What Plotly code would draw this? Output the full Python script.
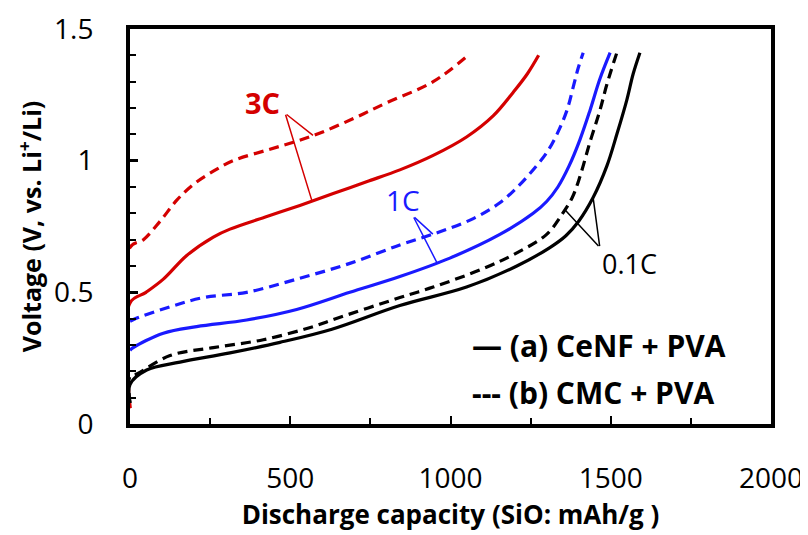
import numpy as np
import plotly.graph_objects as go

# ---- data ----
x_3c_a = [0, 0, 50, 104, 177, 260, 312, 420, 530, 634, 738, 842, 946, 1050, 1133, 1196, 1240, 1275]
y_3c_a = [0.06, 0.46, 0.50, 0.55, 0.64, 0.71, 0.74, 0.785, 0.83, 0.875, 0.92, 0.965, 1.02, 1.09, 1.17, 1.26, 1.33, 1.40]

x_3c_b = [0, 0, 42, 94, 146, 198, 260, 322, 427, 510, 593, 697, 801, 946, 1055]
y_3c_b = [0.06, 0.67, 0.70, 0.77, 0.85, 0.91, 0.96, 1.00, 1.04, 1.07, 1.105, 1.16, 1.22, 1.30, 1.40]

x_1c_a = [0, 10, 104, 208, 364, 520, 686, 842, 998, 1154, 1258, 1300, 1335, 1370, 1404, 1435, 1466, 1498]
y_1c_a = [0.28, 0.29, 0.345, 0.37, 0.395, 0.435, 0.50, 0.56, 0.63, 0.72, 0.80, 0.845, 0.90, 0.98, 1.08, 1.19, 1.31, 1.41]

x_1c_b = [0, 16, 125, 229, 364, 520, 686, 842, 967, 1071, 1154, 1217, 1268, 1300, 1332, 1363, 1383, 1398, 1414]
y_1c_b = [0.39, 0.40, 0.445, 0.48, 0.50, 0.55, 0.61, 0.68, 0.73, 0.78, 0.84, 0.91, 0.98, 1.03, 1.10, 1.19, 1.28, 1.35, 1.41]

x_01c_a = [0, 0, 52, 156, 312, 468, 630, 842, 1050, 1207, 1310, 1360, 1400, 1445, 1488, 1519, 1550, 1570, 1591]
y_01c_a = [0.08, 0.15, 0.205, 0.235, 0.27, 0.31, 0.36, 0.45, 0.52, 0.60, 0.67, 0.715, 0.77, 0.86, 0.98, 1.10, 1.23, 1.33, 1.41]

x_01c_b = [0, 0, 21, 125, 260, 416, 572, 630, 842, 946, 1102, 1207, 1300, 1350, 1380, 1404, 1435, 1466, 1488, 1519]
y_01c_b = [0.08, 0.18, 0.19, 0.26, 0.29, 0.32, 0.37, 0.395, 0.48, 0.52, 0.59, 0.65, 0.72, 0.80, 0.86, 0.94, 1.07, 1.19, 1.29, 1.41]

x_ticks = [0, 500, 1000, 1500, 2000]
y_ticks = [0, 0.5, 1, 1.5]
y_tick_text = ["0", "0.5", "1", "1.5"]

RED = "#d40000"
BLUE = "#1a1aff"
BLACK = "#000000"
FONT = "Open Sans"

fig = go.Figure()

def add(x, y, color, dash):
    fig.add_trace(go.Scatter(x=x, y=y, mode="lines", showlegend=False,
                             line=dict(color=color, width=3.2, dash=dash, shape="spline", smoothing=1.0)))

add(x_3c_b, y_3c_b, RED, "10px,6px")
add(x_3c_a, y_3c_a, RED, "solid")
add(x_1c_a, y_1c_a, BLUE, "solid")
add(x_1c_b, y_1c_b, BLUE, "10px,6px")
add(x_01c_a, y_01c_a, BLACK, "solid")
add(x_01c_b, y_01c_b, BLACK, "10px,6px")

def pt(xs, ys, xv):
    xs = np.asarray(xs, float)
    ys = np.asarray(ys, float)
    keep = np.r_[np.diff(xs) > 0, True]
    return xv, float(np.interp(xv, xs[keep], ys[keep]))

def pointer(xs, ys, xv, ax, ay, color):
    x0, y0 = pt(xs, ys, xv)
    fig.add_annotation(x=x0, y=y0, ax=ax, ay=ay, axref="x", ayref="y", xref="x", yref="y",
                       text="", showarrow=True, arrowhead=0, arrowwidth=1.5, arrowcolor=color)

# labels
fig.add_annotation(x=412, y=1.22, text="<b>3C</b>", showarrow=False,
                   font=dict(family=FONT, size=29, color=RED))
pointer(x_3c_b, y_3c_b, 571, 484, 1.18, RED)
pointer(x_3c_a, y_3c_a, 568, 484, 1.18, RED)

fig.add_annotation(x=852, y=0.85, text="1C", showarrow=False,
                   font=dict(family=FONT, size=28, color=BLUE))
pointer(x_1c_b, y_1c_b, 945, 883, 0.79, BLUE)
pointer(x_1c_a, y_1c_a, 958, 883, 0.79, BLUE)

fig.add_annotation(x=1560, y=0.61, text="0.1C", showarrow=False,
                   font=dict(family=FONT, size=27, color=BLACK))
pointer(x_01c_b, y_01c_b, 1357, 1466, 0.67, BLACK)
pointer(x_01c_a, y_01c_a, 1445, 1466, 0.67, BLACK)

# legend as text
fig.add_annotation(x=1062, y=0.297, xanchor="left", text="<b>— (a) CeNF + PVA</b>", showarrow=False,
                   font=dict(family=FONT, size=30, color=BLACK))
fig.add_annotation(x=1062, y=0.12, xanchor="left", text="<b>--- (b) CMC + PVA</b>", showarrow=False,
                   font=dict(family=FONT, size=30, color=BLACK))

fig.update_xaxes(range=[0, 2000], tickvals=x_ticks, ticks="inside", ticklen=8, tickwidth=2,
                 tickcolor="black", showline=True, linecolor="black", linewidth=4, mirror=True,
                 showgrid=False, zeroline=False, ticklabelstandoff=26, automargin=False,
                 tickfont=dict(family=FONT, size=28, color="black"),
                 minor=dict(dtick=250, ticks="inside", ticklen=6, tickwidth=2, tickcolor="black"),
                 title=dict(text="<b>Discharge capacity (SiO: mAh/g )</b>", standoff=11,
                            font=dict(family=FONT, size=26, color="black")))
fig.update_yaxes(range=[0, 1.5], tickvals=y_ticks, ticktext=y_tick_text, ticks="inside", ticklen=8,
                 tickwidth=3, tickcolor="black", showline=True, linecolor="black", linewidth=4,
                 mirror=True, showgrid=False, zeroline=False, ticklabelstandoff=27, automargin=False,
                 tickfont=dict(family=FONT, size=28, color="black"),
                 minor=dict(dtick=0.1, ticks="inside", ticklen=6, tickwidth=2, tickcolor="black"),
                 title=dict(text="<b>Voltage (V, vs. Li<sup>+</sup>/Li)</b>", standoff=6,
                            font=dict(family=FONT, size=25, color="black")))

# the page body adds an 8px offset, so the figure is sized to sit the plot box where the reference has it
fig.update_layout(width=800, height=527, margin=dict(l=122, r=37, t=21, b=111),
                  plot_bgcolor="white", paper_bgcolor="white")

fig.write_html("out.html")
